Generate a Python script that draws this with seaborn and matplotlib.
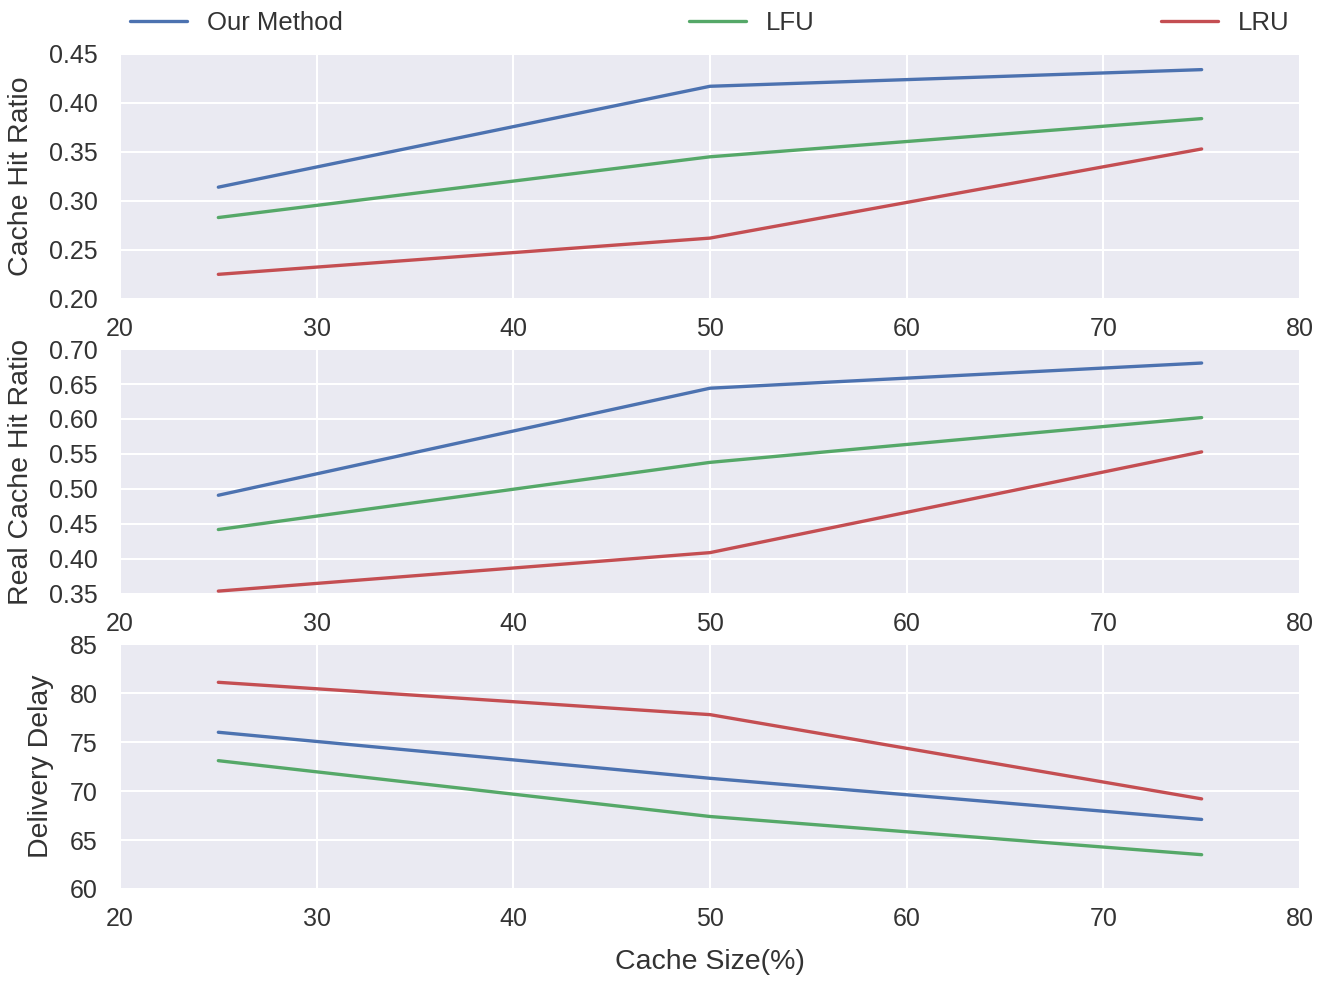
import numpy as np
import pandas as pd
import seaborn as sns
from matplotlib import pyplot as plt
from matplotlib.ticker import FormatStrFormatter

# Cache sizes (x axis) and method names
cache_size = [25, 50, 75]
methods = ["Our Method", "LFU", "LRU"]
colors = ["#4C72B0", "#55A868", "#C44E52"]

# Cache hit ratio
hit_our = [0.314, 0.417, 0.434]
hit_lfu = [0.283, 0.345, 0.384]
hit_lru = [0.225, 0.262, 0.353]

# Real cache hit ratio
real_our = [0.491, 0.644, 0.680]
real_lfu = [0.442, 0.538, 0.602]
real_lru = [0.354, 0.409, 0.553]

# Delivery delay
delay_our = [76.0, 71.3, 67.1]
delay_lfu = [73.1, 67.4, 63.5]
delay_lru = [81.1, 77.8, 69.2]


# Build a long table for one panel
def long_table(our, lfu, lru):
    rows = []
    for name, vals in zip(methods, [our, lfu, lru]):
        for x, v in zip(cache_size, vals):
            rows.append({"Cache Size(%)": x, "value": v, "method": name})
    return pd.DataFrame(rows)


panels = [
    ("Cache Hit Ratio", long_table(hit_our, hit_lfu, hit_lru), (0.20, 0.45), np.arange(0.20, 0.451, 0.05), "%.2f"),
    ("Real Cache Hit Ratio", long_table(real_our, real_lfu, real_lru), (0.35, 0.70), np.arange(0.35, 0.701, 0.05), "%.2f"),
    ("Delivery Delay", long_table(delay_our, delay_lfu, delay_lru), (60, 85), np.arange(60, 86, 5), "%d"),
]

# Style
sns.set_theme(style="darkgrid", rc={
    "grid.color": "white",
    "grid.linewidth": 1.5,
    "axes.facecolor": "#EAEAF2",
    "xtick.major.pad": 13,
    "ytick.major.pad": 16,
})
plt.rcParams["font.family"] = ["Liberation Sans", "DejaVu Sans"]

fig, axes = plt.subplots(3, 1, figsize=(13.23, 9.81), dpi=100)
fig.subplots_adjust(left=0.0907, right=0.9826, top=0.945, bottom=0.0938, hspace=0.205)

for i, (ylabel, df, ylim, yticks, fmt) in enumerate(panels):
    ax = axes[i]
    sns.lineplot(data=df, x="Cache Size(%)", y="value", hue="method", hue_order=methods,
                 palette=colors, linewidth=2.4, ax=ax, legend=(i == 0))
    ax.set_xlim(20, 80)
    ax.set_xticks(range(20, 81, 10))
    ax.set_ylim(*ylim)
    ax.set_yticks(yticks)
    ax.yaxis.set_major_formatter(FormatStrFormatter(fmt))
    ax.tick_params(labelsize=18, length=0, labelcolor="#333333")
    ax.set_ylabel(ylabel, fontsize=20.5, color="#333333", labelpad=11)
    if i == 2:
        ax.set_xlabel("Cache Size(%)", fontsize=20.5, color="#333333", labelpad=13)
    else:
        ax.set_xlabel("")

# Legend on top, spread over the full width
handles, labels = axes[0].get_legend_handles_labels()
axes[0].legend(handles, labels, bbox_to_anchor=(0, 1.035, 1, 0.2), loc="lower left",
               mode="expand", ncol=3, frameon=False, fontsize=18.5, handlelength=2.2,
               borderaxespad=0, labelcolor="#333333")

plt.savefig("out.png", dpi=100)
plt.close()
